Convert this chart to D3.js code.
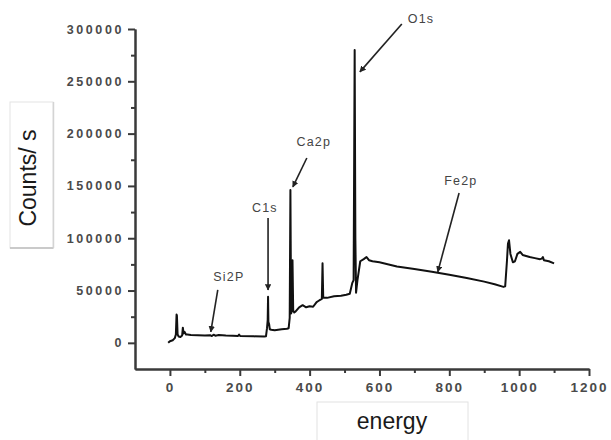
<!DOCTYPE html>
<html>
<head>
<meta charset="utf-8">
<script src="https://cdn.jsdelivr.net/npm/d3@7"></script>
<style>
  html, body { margin: 0; padding: 0; background: #fff; }
  svg { display: block; }
</style>
</head>
<body>
<svg id="chart" width="611" height="440"></svg>
<script>
// XPS survey spectrum: binding energy (eV) vs counts per second
const energy = [-5, 0, 8, 14, 17, 19, 20, 22, 25, 30, 35, 37, 39, 42, 46, 50, 60, 80, 100,
  115, 120, 125, 130, 140, 160, 180, 195, 198, 201, 240, 270, 275, 278, 280, 281, 282, 284,
  286, 290, 300, 320, 335, 340, 343, 345, 347, 349, 351, 353, 356, 360, 370, 380, 390, 400,
  410, 420, 425, 430, 435, 437, 439, 450, 470, 490, 505, 515, 522, 526, 529, 531, 533, 537,
  545, 555, 563, 570, 580, 600, 650, 700, 750, 800, 850, 900, 930, 955, 960, 965, 968, 971,
  975, 982, 988, 995, 1003, 1010, 1020, 1030, 1045, 1060, 1065, 1068, 1071, 1085, 1100];
const counts = [0, 1500, 2500, 4500, 8000, 27000, 26000, 8000, 6000, 5500, 7000, 14500, 9000,
  10500, 8000, 8000, 7500, 7200, 7000, 7300, 6500, 7800, 6800, 7500, 7000, 6700, 6500, 8000,
  6500, 6200, 6000, 6300, 14000, 22000, 44000, 20000, 18000, 13000, 12500, 12000, 13000,
  13500, 14000, 24000, 146000, 28000, 30000, 79000, 31000, 29000, 30000, 34000, 36000, 34000,
  35000, 34500, 39000, 40000, 41000, 42000, 76000, 43000, 43000, 44500, 45000, 46000, 47000,
  57000, 60000, 280000, 100000, 48000, 60000, 78000, 80000, 82000, 79000, 78000, 77000, 73000,
  70500, 68000, 65000, 62000, 58500, 56000, 53500, 54000, 78000, 95000, 98000, 85000, 77000,
  78000, 85000, 87000, 84000, 83000, 82000, 81000, 80000, 80500, 82000, 79000, 78000, 76000];

// Axis ticks
const xTicks = [0, 200, 400, 600, 800, 1000, 1200];
const xMinorTicks = [100, 300, 500, 700, 900, 1100];
const yTicks = [0, 50000, 100000, 150000, 200000, 250000, 300000];
const yMinorTicks = [25000, 75000, 125000, 175000, 225000, 275000];

// Peak annotations: label, label anchor (energy, counts), arrow start and arrow tip
const peakNames = ["Si2P", "C1s", "Ca2p", "O1s", "Fe2p"];
const peakLabelAt = [[169, 63000], [272, 129000], [412, 192000], [719, 309500], [833, 154800]];
const peakArrowFrom = [[137, 50600], [281, 119400], [392, 176700], [664, 304800], [828, 143300]];
const peakArrowTo = [[117, 10500], [281, 50600], [352, 149000], [544, 259000], [767, 67800]];

const svg = d3.select("#chart");

const x = d3.scaleLinear().domain([-100, 1200]).range([135, 589]);
const y = d3.scaleLinear().domain([-25000, 300000]).range([369, 29]);

const axisColor = "#3a3a3a";

// Axis-title boxes
const yBox = svg.append("g");
yBox.append("rect").attr("x", 10).attr("y", 102).attr("width", 43).attr("height", 146)
  .attr("fill", "#fff").attr("stroke", "#e4e4e4").attr("stroke-width", 1);
yBox.append("line").attr("x1", 10).attr("x2", 53.5).attr("y1", 248).attr("y2", 248)
  .attr("stroke", "#bdbdbd").attr("stroke-width", 1.5);
yBox.append("line").attr("x1", 53.5).attr("x2", 53.5).attr("y1", 102).attr("y2", 248)
  .attr("stroke", "#d4d4d4").attr("stroke-width", 1.5);
yBox.append("text")
  .attr("transform", "translate(36,178) rotate(-90)")
  .attr("text-anchor", "middle")
  .attr("font-family", "Arial, Liberation Sans, sans-serif")
  .attr("font-size", 23)
  .attr("fill", "#1a1a1a")
  .text("Counts/ s");

const xBox = svg.append("g");
xBox.append("rect").attr("x", 317).attr("y", 402).attr("width", 151).attr("height", 45)
  .attr("fill", "#fff").attr("stroke", "#e2e2e2").attr("stroke-width", 1);
xBox.append("text")
  .attr("x", 392).attr("y", 429)
  .attr("text-anchor", "middle")
  .attr("font-family", "Arial, Liberation Sans, sans-serif")
  .attr("font-size", 23)
  .attr("fill", "#1a1a1a")
  .text("energy");

// Axes
function styleAxis(g) {
  g.select(".domain").attr("stroke", axisColor).attr("stroke-width", 2);
  g.selectAll(".tick line").attr("stroke", axisColor).attr("stroke-width", 2);
  g.selectAll(".tick text")
    .attr("font-family", "Arial, Liberation Sans, sans-serif")
    .attr("font-weight", "bold")
    .attr("fill", "#4a4a4a");
}

const gxMinor = svg.append("g").attr("transform", `translate(0,${y(-25000)})`)
  .call(d3.axisBottom(x).tickValues(xMinorTicks).tickSize(4).tickSizeOuter(0).tickFormat(""));
styleAxis(gxMinor);
const gx = svg.append("g").attr("transform", `translate(0,${y(-25000)})`)
  .call(d3.axisBottom(x).tickValues(xTicks).tickSize(7).tickSizeOuter(0).tickPadding(6)
    .tickFormat(d3.format("d")));
styleAxis(gx);
gx.selectAll(".tick text").attr("font-size", 13.5).attr("letter-spacing", "2px");

const gyMinor = svg.append("g").attr("transform", `translate(${x(-100)},0)`)
  .call(d3.axisLeft(y).tickValues(yMinorTicks).tickSize(4).tickSizeOuter(0).tickFormat(""));
styleAxis(gyMinor);
const gy = svg.append("g").attr("transform", `translate(${x(-100)},0)`)
  .call(d3.axisLeft(y).tickValues(yTicks).tickSize(7).tickSizeOuter(0).tickPadding(4)
    .tickFormat(d3.format("d")));
styleAxis(gy);
gy.selectAll(".tick text").attr("font-size", 12.5).attr("letter-spacing", "2.6px");

// Spectrum line
const points = energy.map((e, i) => [e, counts[i]]);
svg.append("path")
  .datum(points)
  .attr("fill", "none")
  .attr("stroke", "#111")
  .attr("stroke-width", 2)
  .attr("stroke-linejoin", "round")
  .attr("d", d3.line().x(d => x(d[0])).y(d => y(d[1])));

// Arrowhead marker
svg.append("defs").append("marker")
  .attr("id", "arrowhead")
  .attr("viewBox", "0 0 10 10")
  .attr("refX", 9).attr("refY", 5)
  .attr("markerWidth", 4).attr("markerHeight", 4)
  .attr("orient", "auto")
  .append("path").attr("d", "M0,0 L10,5 L0,10 Z").attr("fill", "#222");

// Peak labels with arrows
const ann = svg.append("g");
peakNames.forEach((name, i) => {
  ann.append("line")
    .attr("x1", x(peakArrowFrom[i][0])).attr("y1", y(peakArrowFrom[i][1]))
    .attr("x2", x(peakArrowTo[i][0])).attr("y2", y(peakArrowTo[i][1]))
    .attr("stroke", "#222").attr("stroke-width", 1.6)
    .attr("marker-end", "url(#arrowhead)");
  ann.append("text")
    .attr("x", x(peakLabelAt[i][0])).attr("y", y(peakLabelAt[i][1]))
    .attr("dy", "0.35em")
    .attr("text-anchor", "middle")
    .attr("font-family", "Arial, Liberation Sans, sans-serif")
    .attr("font-size", 12.5)
    .attr("letter-spacing", "1.2px")
    .attr("fill", "#444")
    .text(name);
});
</script>
</body>
</html>
